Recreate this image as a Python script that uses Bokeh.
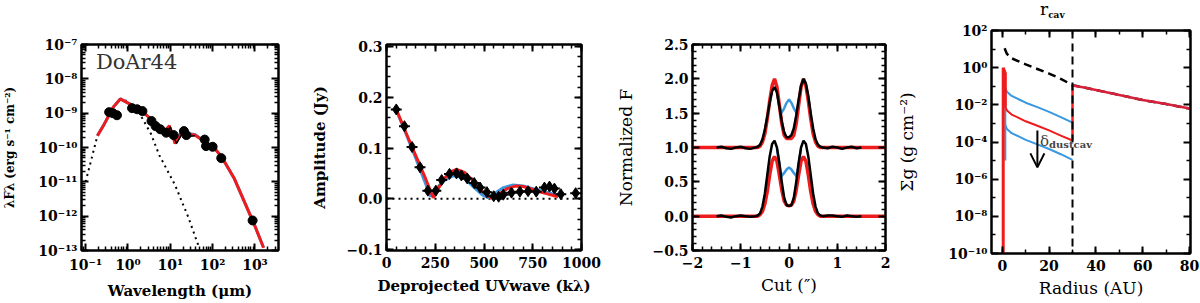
from bokeh.plotting import figure
from bokeh.layouts import row, column
from bokeh.models import (FixedTicker, CustomJSTickFormatter, LinearAxis, LogAxis,
                          Arrow, OpenHead, Label, Range1d, Span, Div)
from bokeh.embed import file_html
from bokeh.resources import INLINE

# ---------------- Panel 1: SED ----------------
sed_wl = [0.36, 0.44, 0.55, 1.25, 1.65, 2.2, 3.6, 4.5, 5.8, 8.0, 12.0, 21.0, 24.0,
          65.0, 70.0, 100.0, 160.0, 880.0]
sed_flux = [1.07e-9, 1.0e-9, 8.7e-10, 1.4e-9, 1.3e-9, 1.15e-9, 5.9e-10, 4.2e-10, 3.4e-10,
            2.7e-10, 2.3e-10, 3.0e-10, 2.3e-10, 1.7e-10, 1.1e-10, 1.05e-10, 4.9e-11, 7.5e-13]
model_wl = [0.19, 0.26, 0.45, 0.66, 1.25, 2.6, 5.5, 7.5, 9.5, 13.0, 18.0, 38.0, 110.0,
            160.0, 320.0, 950.0, 1600.0]
model_red = [2.2e-10, 4.2e-10, 1.5e-9, 2.6e-9, 1.7e-9, 9.3e-10, 4.0e-10, 3.0e-10, 4.3e-10,
             1.3e-10, 2.5e-10, 2.3e-10, 9.5e-11, 5.6e-11, 1.3e-11, 6.0e-13, 1.2e-13]
model_blue = [2.2e-10, 4.2e-10, 1.5e-9, 2.6e-9, 1.7e-9, 9.3e-10, 4.1e-10, 3.1e-10, 4.1e-10,
              1.5e-10, 2.7e-10, 2.4e-10, 9.6e-11, 5.6e-11, 1.3e-11, 6.0e-13, 1.2e-13]
phot_wl = [0.1, 0.15, 0.19, 0.26, 0.45, 0.66, 1.0, 1.5, 2.2, 3.5, 5.5, 13.0, 27.0, 47.0]
phot_flux = [1.0e-11, 7.0e-11, 2.2e-10, 4.2e-10, 1.5e-9, 2.6e-9, 2.2e-9, 1.4e-9, 7.0e-10,
             2.5e-10, 6.0e-11, 8.0e-12, 9.0e-13, 1.3e-13]
irs_wl = [5.5, 7.6, 10.0, 12.0, 14.0, 19.0, 27.0, 38.0]
irs_flux = [2.9e-10, 2.2e-10, 4.0e-10, 2.1e-10, 1.3e-10, 2.5e-10, 2.1e-10, 2.2e-10]
sed_xticks = [0.1, 1.0, 10.0, 100.0, 1000.0]
sed_yticks = [1e-13, 1e-12, 1e-11, 1e-10, 1e-9, 1e-8, 1e-7]

# ---------------- Panel 2: visibilities ----------------
uv_k = [50, 92, 131, 172, 212, 253, 283, 323, 359, 384, 414, 450, 480, 515, 550, 575,
        599, 641, 684, 726, 768, 810, 836, 861, 894, 970]
amp = [0.176, 0.143, 0.102, 0.062, 0.016, 0.016, 0.037, 0.049, 0.050, 0.046, 0.040, 0.031,
       0.022, 0.013, 0.005, 0.004, 0.008, 0.012, 0.014, 0.015, 0.014, 0.022, 0.024, 0.020,
       0.009, 0.011]
uv_err = 28.0
amp_err = 0.008
uvmod_red = [50, 100, 150, 200, 240, 280, 320, 360, 400, 450, 500, 540, 580, 620, 660,
             700, 740, 780, 820, 860, 880]
amp_red = [0.176, 0.130, 0.085, 0.040, 0.002, 0.030, 0.052, 0.058, 0.052, 0.033, 0.012,
           0.001, 0.010, 0.020, 0.025, 0.024, 0.020, 0.014, 0.010, 0.006, 0.004]
uvmod_blue = [50, 100, 150, 200, 225, 260, 300, 340, 360, 400, 450, 490, 520, 560, 600,
              650, 700, 750, 800, 850, 880]
amp_blue = [0.175, 0.128, 0.080, 0.030, 0.005, 0.022, 0.037, 0.045, 0.045, 0.040, 0.022,
            0.008, 0.002, 0.012, 0.022, 0.027, 0.025, 0.020, 0.015, 0.010, 0.008]
uv_xticks = [0, 250, 500, 750, 1000]
amp_yticks = [-0.1, 0.0, 0.1, 0.2, 0.3]

# ---------------- Panel 3: cuts ----------------
mod_x = [-2.0, -0.65, -0.6, -0.55, -0.5, -0.45, -0.4, -0.35, -0.3, -0.25, -0.2, -0.15, -0.1,
         -0.05, 0.0, 0.05, 0.1, 0.15, 0.2, 0.25, 0.3, 0.35, 0.4, 0.45, 0.5, 0.55, 0.6, 0.65,
         2.0]
mod_upper = [1.0, 1.0, 1.02, 1.08, 1.2, 1.42, 1.68, 1.9, 2.0, 1.88, 1.62, 1.35, 1.18, 1.13,
             1.13, 1.13, 1.18, 1.35, 1.62, 1.88, 2.0, 1.9, 1.68, 1.42, 1.2, 1.08, 1.02, 1.0,
             1.0]
mod_lower = [0.0, 0.0, 0.02, 0.07, 0.18, 0.36, 0.6, 0.8, 0.87, 0.8, 0.6, 0.38, 0.22, 0.16,
             0.15, 0.16, 0.22, 0.38, 0.6, 0.8, 0.87, 0.8, 0.6, 0.36, 0.18, 0.07, 0.02, 0.0,
             0.0]
blue_x = [-0.25, -0.2, -0.16, -0.1, -0.05, 0.0, 0.05, 0.1, 0.16, 0.2, 0.25]
blue_upper = [1.80, 1.60, 1.50, 1.57, 1.65, 1.70, 1.65, 1.57, 1.50, 1.62, 1.88]
blue_lower = [0.98, 0.75, 0.58, 0.63, 0.68, 0.71, 0.68, 0.63, 0.58, 0.75, 0.98]
obs_x = [-1.5, -1.4, -1.3, -1.2, -1.1, -1.0, -0.9, -0.8, -0.7, -0.65, -0.6, -0.55, -0.5,
         -0.45, -0.4, -0.35, -0.3, -0.25, -0.2, -0.15, -0.1, -0.05, 0.0, 0.05, 0.1, 0.15,
         0.2, 0.25, 0.3, 0.35, 0.4, 0.45, 0.5, 0.55, 0.6, 0.65, 0.7, 0.8, 0.9, 1.0, 1.1,
         1.2, 1.3, 1.4, 1.5]
obs_upper = [1.0, 1.01, 0.99, 0.98, 1.0, 1.01, 0.99, 0.98, 1.0, 1.01, 1.04, 1.12, 1.26,
             1.45, 1.65, 1.82, 1.88, 1.80, 1.60, 1.38, 1.22, 1.15, 1.15, 1.18, 1.28, 1.47,
             1.70, 1.90, 2.0, 1.93, 1.75, 1.50, 1.28, 1.12, 1.04, 1.01, 1.0, 0.99, 1.01, 1.0,
             0.98, 1.0, 1.01, 0.99, 1.0]
obs_lower = [0.0, 0.01, -0.01, -0.02, 0.0, 0.01, 0.0, -0.01, 0.0, 0.01, 0.04, 0.14, 0.33,
             0.60, 0.87, 1.05, 1.10, 1.00, 0.78, 0.50, 0.27, 0.16, 0.15, 0.16, 0.27, 0.50,
             0.78, 1.00, 1.10, 1.05, 0.87, 0.60, 0.33, 0.14, 0.04, 0.01, 0.0, 0.01, 0.01, 0.0,
             -0.01, 0.01, 0.0, -0.01, 0.0]
cut_xticks = [-2, -1, 0, 1, 2]
cut_yticks = [-0.5, 0.0, 0.5, 1.0, 1.5, 2.0, 2.5]

# ---------------- Panel 4: surface density ----------------
r_cav = 30.0
full_r = [1.0, 2.0, 4.0, 7.0, 10.0, 15.0, 20.0, 25.0, 30.0, 35.0, 40.0, 50.0, 60.0, 70.0, 80.0]
full_sigma = [11.0, 5.5, 3.2, 2.2, 1.5, 0.85, 0.48, 0.25, 0.115, 0.085, 0.063, 0.034,
              0.018, 0.011, 0.0063]
rim_r = [0.4, 0.4, 1.3, 1.3]
rim_sigma = [1e-10, 1.0, 0.5, 0.008]
blue_rim_r = [1.3, 1.3]
blue_rim_sigma = [1e-5, 0.08]
cav_r = [1.3, 2.0, 4.0, 7.0, 10.0, 15.0, 20.0, 25.0, 30.0]
cav_blue_hi = [0.08, 0.05, 0.03, 0.02, 0.013, 0.0075, 0.0042, 0.0022, 0.0011]
cav_red = [0.008, 0.005, 0.003, 0.002, 0.0013, 0.00075, 0.00042, 0.00022, 0.00012]
cav_blue_lo = [0.0008, 0.0005, 0.0003, 0.0002, 0.00013, 7.5e-5, 4.2e-5, 2.2e-5, 1.1e-5]
outer_r = [30.0, 35.0, 40.0, 50.0, 60.0, 70.0, 80.0]
outer_sigma = [0.11, 0.085, 0.063, 0.034, 0.018, 0.011, 0.0063]
rad_xticks = [0, 20, 40, 60, 80]
sig_yticks = [1e-10, 1e-8, 1e-6, 1e-4, 1e-2, 1e0, 1e2]

# ---------------- styling ----------------
SERIF = "DejaVu Serif"
RED = "#ee1c1c"
BLUE = "#3a98e0"
H = 302
BOTTOM = 49

LOGFMT = CustomJSTickFormatter(code="""
const sup = {'-':'\\u207B','0':'\\u2070','1':'\\u00B9','2':'\\u00B2','3':'\\u00B3',
             '4':'\\u2074','5':'\\u2075','6':'\\u2076','7':'\\u2077','8':'\\u2078','9':'\\u2079'};
const e = Math.round(Math.log10(tick));
return '10' + String(e).split('').map(c => sup[c]).join('');
""")
DEC1 = CustomJSTickFormatter(code="""
const v = Math.abs(tick) < 1e-9 ? 0 : tick;
return (v < 0 ? '\\u2212' : '') + Math.abs(v).toFixed(1);
""")
INTF = CustomJSTickFormatter(code="""
const v = Math.round(tick);
return (v < 0 ? '\\u2212' : '') + Math.abs(v);
""")
BLANK = CustomJSTickFormatter(code="return ' ';")


def lin_minor(lo, hi, step):
    n = int(round((hi - lo) / step))
    return [lo + i * step for i in range(n + 1)]


def log_minor(e0, e1):
    return [m * 10.0 ** e for e in range(e0, e1) for m in range(2, 10)]


def tick_style(ax):
    ax.major_tick_in = 7
    ax.major_tick_out = 0
    ax.minor_tick_in = 4
    ax.minor_tick_out = 0
    ax.axis_line_width = 2
    ax.major_tick_line_width = 2
    ax.minor_tick_line_width = 1.5
    ax.axis_line_color = "black"
    ax.major_tick_line_color = "black"
    ax.minor_tick_line_color = "black"


def style(p, xticker, yticker, xfmt, yfmt, xlabel, ylabel, ystand, xlog=False, ylog=False,
          label_style="bold", xsize="15px", ysize="15px", xstand=6):
    p.outline_line_color = "black"
    p.outline_line_width = 2
    p.xgrid.visible = False
    p.ygrid.visible = False
    p.background_fill_color = "white"
    p.border_fill_color = "white"
    for ax, t, f in ((p.xaxis[0], xticker, xfmt), (p.yaxis[0], yticker, yfmt)):
        ax.ticker = t
        ax.formatter = f
        tick_style(ax)
        ax.major_label_text_font = SERIF
        ax.major_label_text_font_style = "bold"
        ax.major_label_text_font_size = "14px"
        ax.major_label_text_color = "black"
        ax.axis_label_text_font = SERIF
        ax.axis_label_text_font_style = label_style
        ax.axis_label_text_color = "black"
    p.xaxis[0].axis_label_text_font_size = xsize
    p.yaxis[0].axis_label_text_font_size = ysize
    p.xaxis[0].major_label_standoff = 6
    p.yaxis[0].major_label_standoff = 4
    p.xaxis[0].axis_label_standoff = xstand
    p.yaxis[0].axis_label_standoff = ystand
    p.xaxis[0].axis_label = xlabel
    p.yaxis[0].axis_label = ylabel
    top = (LogAxis if xlog else LinearAxis)(ticker=xticker, formatter=BLANK)
    right = (LogAxis if ylog else LinearAxis)(ticker=yticker, formatter=BLANK)
    for ax in (top, right):
        tick_style(ax)
        ax.major_label_text_font_size = "1px"
        ax.major_label_standoff = 0
    p.add_layout(top, "above")
    p.add_layout(right, "right")


def fig(width, left, right, top, xr, yr, xtype="linear", ytype="linear", height=H):
    return figure(width=width, height=height, x_range=xr, y_range=yr, title=None,
                  x_axis_type=xtype, y_axis_type=ytype,
                  min_border_left=left, min_border_right=right,
                  min_border_top=top, min_border_bottom=BOTTOM,
                  toolbar_location=None, output_backend="svg")


# ---------- Panel 1 ----------
p1 = fig(308, 78, 30, 44, Range1d(0.08, 3600), Range1d(1e-13, 1e-7), "log", "log")
style(p1,
      FixedTicker(ticks=sed_xticks, minor_ticks=log_minor(-2, 4)),
      FixedTicker(ticks=sed_yticks, minor_ticks=log_minor(-14, -7)),
      LOGFMT, LOGFMT, "Wavelength (\u03bcm)", "\u03bbF\u03bb (erg s\u207b\u00b9 cm\u207b\u00b2)",
      ystand=18, xlog=True, ylog=True, ysize="12px")
p1.line(phot_wl, phot_flux, line_color="black", line_width=2, line_dash="2 4")
p1.line(model_wl, model_blue, line_color=BLUE, line_width=3)
p1.line(model_wl, model_red, line_color=RED, line_width=3)
p1.line(irs_wl, irs_flux, line_color="black", line_width=1.5)
p1.scatter(sed_wl, sed_flux, size=9, marker="circle", fill_color="black", line_color="black")
p1.add_layout(Label(x=0.175, y=3.0e-8, text="DoAr44", text_font=SERIF,
                    text_font_size="21px", text_color="#333333",
                    text_align="left", text_baseline="middle"))

# ---------- Panel 2 ----------
p2 = fig(305, 75, 32, 30, Range1d(0, 1000), Range1d(-0.102, 0.304))
style(p2,
      FixedTicker(ticks=uv_xticks, minor_ticks=lin_minor(0, 1000, 50)),
      FixedTicker(ticks=amp_yticks, minor_ticks=lin_minor(-0.1, 0.3, 0.02)),
      INTF, DEC1, "Deprojected UVwave (k\u03bb)", "Amplitude (Jy)", ystand=14)
p2.add_layout(Span(location=0, dimension="width", line_color="black", line_width=2,
                   line_dash="2 4", level="underlay"))
p2.line(uvmod_blue, amp_blue, line_color=BLUE, line_width=3)
p2.line(uvmod_red, amp_red, line_color=RED, line_width=3)
p2.segment(x0=[u - uv_err for u in uv_k], y0=amp, x1=[u + uv_err for u in uv_k], y1=amp,
           line_color="black", line_width=2)
p2.segment(x0=uv_k, y0=[a - amp_err for a in amp], x1=uv_k, y1=[a + amp_err for a in amp],
           line_color="black", line_width=2)
p2.scatter(uv_k, amp, marker="diamond", size=11, fill_color="black", line_color="black")

# ---------- Panel 3 ----------
p3 = fig(278, 75, 6, 30, Range1d(-2, 2), Range1d(-0.5, 2.5))
style(p3,
      FixedTicker(ticks=cut_xticks, minor_ticks=lin_minor(-2, 2, 0.2)),
      FixedTicker(ticks=cut_yticks, minor_ticks=lin_minor(-0.5, 2.5, 0.1)),
      INTF, DEC1, "Cut (\u2033)", "Normalized F", ystand=13,
      label_style="normal", xsize="17px", ysize="17px", xstand=4)
p3.line(blue_x, blue_upper, line_color=BLUE, line_width=2.5)
p3.line(blue_x, blue_lower, line_color=BLUE, line_width=2.5)
p3.line(mod_x, mod_upper, line_color=RED, line_width=3.5)
p3.line(mod_x, mod_lower, line_color=RED, line_width=3.5)
p3.line(obs_x, obs_upper, line_color="black", line_width=2.5)
p3.line(obs_x, obs_lower, line_color="black", line_width=2.5)

# ---------- Panel 4 ----------
TITLE_H = 22
p4 = fig(309, 100, 10, 8, Range1d(-4.6, 80.4), Range1d(1e-10, 1e2), "linear", "log",
         height=H - TITLE_H)
style(p4,
      FixedTicker(ticks=rad_xticks, minor_ticks=lin_minor(0, 80, 10)),
      FixedTicker(ticks=sig_yticks, minor_ticks=[10.0 ** e for e in range(-9, 2, 2)]),
      INTF, LOGFMT, "Radius (AU)", "\u03a3g (g cm\u207b\u00b2)", ystand=28, ylog=True,
      label_style="normal", xsize="17px", ysize="17px", xstand=4)
p4.line(full_r, full_sigma, line_color="black", line_width=2.5, line_dash="8 5")
p4.line(blue_rim_r, blue_rim_sigma, line_color=BLUE, line_width=2)
p4.line(cav_r, cav_blue_hi, line_color=BLUE, line_width=2)
p4.line(cav_r, cav_blue_lo, line_color=BLUE, line_width=2)
p4.line(rim_r, rim_sigma, line_color=RED, line_width=3)
p4.line(cav_r, cav_red, line_color=RED, line_width=2)
p4.line([cav_r[-1], cav_r[-1]], [cav_red[-1], outer_sigma[0]], line_color=RED, line_width=2.5)
p4.line(outer_r, outer_sigma, line_color="#d8203a", line_width=2.5)
p4.add_layout(Span(location=r_cav, dimension="height", line_color="black", line_width=2,
                   line_dash="8 5"))
p4.add_layout(Arrow(end=OpenHead(size=14, line_width=2, line_color="black"),
                    x_start=15.0, y_start=4.2e-4, x_end=15.0, y_end=4.3e-6,
                    line_width=2, line_color="black"))
p4.add_layout(Label(x=18.0, y=1.2e-4, text="\u03b4", text_font=SERIF,
                    text_font_size="15px", text_align="center", text_baseline="middle"))
p4.add_layout(Label(x=20.0, y=7.5e-5, text="dustcav", text_font=SERIF,
                    text_font_style="bold", text_font_size="10px",
                    text_align="left", text_baseline="middle"))

title4 = Div(
    text=("<div style=\"font-family:'DejaVu Serif';font-size:17px;line-height:17px;"
          "margin-left:149px;margin-top:1px;color:black;white-space:nowrap;\">r"
          "<span style=\"font-size:9px;font-weight:bold;position:relative;top:3px;\">cav"
          "</span></div>"),
    width=309, height=TITLE_H, margin=0)

layout = row(p1, p2, p3, column(title4, p4))
with open("out.html", "w", encoding="utf-8") as fh:
    fh.write(file_html(layout, INLINE))
